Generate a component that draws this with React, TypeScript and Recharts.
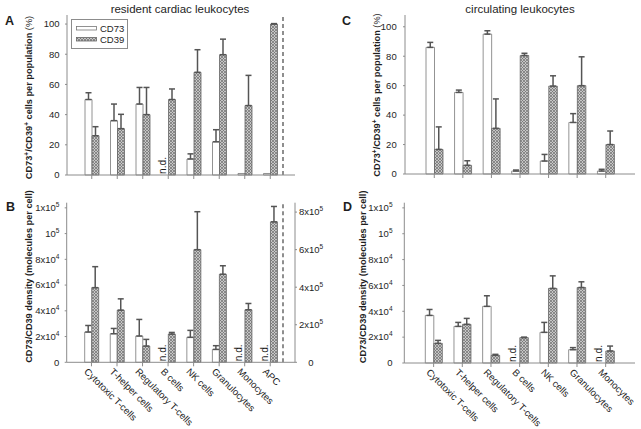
import React from "react";
import {
  BarChart,
  Bar,
  XAxis,
  YAxis,
  ErrorBar,
  LabelList,
  Label,
  Legend,
  ReferenceLine,
} from "recharts";

// categories
const cells = [
  "Cytotoxic T-cells",
  "T-helper cells",
  "Regulatory T-cells",
  "B cells",
  "NK cells",
  "Granulocytes",
  "Monocytes",
];
const cellsWithApc = [...cells, "APC"];

// A: resident cardiac leukocytes, % positive cells (0 = n.d.)
const pctA73 = [50, 36, 47, 0, 10.6, 22, 1, 1];
const pctA73Err = [4.5, 11, 11, 0, 3.4, 8, 0, 0];
const pctA39 = [26, 30.7, 40, 50, 68, 79.7, 46, 100];
const pctA39Err = [6, 9.5, 18, 7, 15, 10.3, 20, 0.3];
const ndA = [false, false, false, true, false, false, false, false];

// B: resident cardiac leukocytes, molecules per cell
const denB73 = [23500, 22200, 20400, 0, 19400, 10000, 0, 0];
const denB73Err = [5100, 4100, 12900, 0, 5400, 2900, 0, 0];
const denB39 = [58000, 40500, 12600, 21900, 87500, 68400, 40800, 0];
const denB39Err = [16300, 8800, 5200, 1300, 29500, 6600, 4900, 0];
// APC CD39 is read on the right axis
const apcB39 = [0, 0, 0, 0, 0, 0, 0, 748000];
const apcB39Err = [0, 0, 0, 0, 0, 0, 0, 82000];
const ndB = [false, false, false, true, false, false, true, true];

// C: circulating leukocytes, % positive cells
const pctC73 = [86, 55.4, 95, 2, 8.8, 35, 2];
const pctC73Err = [3.4, 1.6, 2.3, 0.7, 4.5, 6, 1.2];
const pctC39 = [16.7, 5.9, 31, 80.5, 59.7, 60, 20];
const pctC39Err = [15.3, 3.1, 20, 1.5, 7, 19.6, 9.2];
const ndC = [false, false, false, false, false, false, false];

// D: circulating leukocytes, molecules per cell
const denD73 = [36800, 28300, 43800, 0, 23700, 10300, 0];
const denD73Err = [4600, 3100, 8200, 0, 7700, 1600, 0];
const denD39 = [15200, 29900, 5900, 19600, 57700, 58400, 9300];
const denD39Err = [2300, 4600, 800, 400, 9700, 4400, 3800];
const ndD = [false, false, false, true, false, false, true];

// ticks
const pctTicks = [0, 20, 40, 60, 80, 100];
const denTicks = [0, 20000, 40000, 60000, 80000, 100000, 120000];
const denTickLabels = [["0", ""], ["2x10", "4"], ["4x10", "4"], ["6x10", "4"], ["8x10", "4"], ["10", "5"], ["1x10", "5"]];
const apcTicks = [0, 200000, 400000, 600000, 800000];
const apcTickLabels = [["0", ""], ["2x10", "5"], ["4x10", "5"], ["6x10", "5"], ["8x10", "5"]];

const FONT = "'Liberation Sans', Arial, Helvetica, sans-serif";
const AXIS = "#8c8c8c";
const INK = "#1e1e1e";
const HATCH = "url(#cd39hatch)";

const err = (e: number) => (e > 0 ? [0, e] : null);

function makeRows(names: string[], v73: number[], e73: number[], v39: number[], e39: number[], nd: boolean[]) {
  return names.map((name, i) => ({
    name,
    cd73: v73[i],
    e73: err(e73[i]),
    cd39: v39[i],
    e39: err(e39[i]),
    nd: nd[i] ? "n.d." : "",
  }));
}

const rowsA = makeRows(cellsWithApc, pctA73, pctA73Err, pctA39, pctA39Err, ndA);
// in B the APC "n.d." hangs on the right-axis bar
const rowsB = makeRows(cellsWithApc, denB73, denB73Err, denB39, denB39Err, ndB).map((r, i) => ({
  ...r,
  nd: apcB39[i] > 0 ? "" : r.nd,
  apc: apcB39[i],
  eApc: err(apcB39Err[i]),
  ndApc: apcB39[i] > 0 && ndB[i] ? "n.d." : "",
}));
const rowsC = makeRows(cells, pctC73, pctC73Err, pctC39, pctC39Err, ndC);
const rowsD = makeRows(cells, denD73, denD73Err, denD39, denD39Err, ndD);

const pctTitle = (
  <>
    <tspan>CD73</tspan>
    <tspan dy={-3} fontSize={6.5}>+</tspan>
    <tspan dy={3}>/CD39</tspan>
    <tspan dy={-3} fontSize={6.5}>+</tspan>
    <tspan dy={3}>{" cells per population "}</tspan>
    <tspan fontWeight="normal">(%)</tspan>
  </>
);
const denTitle = <tspan>CD73/CD39 density (molecules per cell)</tspan>;

const NoTick = () => <g />;

const SlantTick = (props: any) => {
  const { x, y, payload } = props;
  const ax = x - 3;
  const ay = y - 1;
  return (
    <text x={ax} y={ay} dy="0.72em" transform={`rotate(45 ${ax} ${ay})`} fontSize={9.6} fontFamily={FONT} fill={INK} textAnchor="start">
      {payload.value}
    </text>
  );
};

const powTick = (ticks: number[], labels: string[][] | null, anchor: "end" | "middle", shift: number) =>
  (props: any) => {
    const { x, y, payload } = props;
    const i = ticks.indexOf(payload.value);
    const [base, exp] = labels && i >= 0 ? labels[i] : [String(payload.value), ""];
    return (
      <text x={x + shift} y={y} dy="0.35em" textAnchor={anchor} fontSize={9.5} fontFamily={FONT} fill={INK}>
        {base}
        {exp ? (
          <tspan dy={-4} fontSize={6.5}>
            {exp}
          </tspan>
        ) : null}
      </text>
    );
  };

const yTitle = (content: React.ReactNode, cx: number, cy: number) => () => (
  <text x={cx} y={cy} transform={`rotate(-90 ${cx} ${cy})`} textAnchor="middle" dominantBaseline="central" fontFamily={FONT} fontSize={9.2} fontWeight="bold" fill={INK}>
    {content}
  </text>
);

// "n.d." written upright in the empty CD73 slot, left of the bar it is attached to
const ndLabel = (slotShift: number) => (props: any) => {
  const vb = props.viewBox || {};
  const x = Number(props.x ?? vb.x);
  const y = Number(props.y ?? vb.y);
  const w = Number(props.width ?? vb.width);
  const h = Number(props.height ?? vb.height);
  if (!props.value || !isFinite(x) || !isFinite(y)) return null;
  const bx = x + w * slotShift;
  const by = y + (isFinite(h) ? h : 0) - 1;
  return (
    <text x={bx} y={by} transform={`rotate(-90 ${bx} ${by})`} fontSize={10.2} fontFamily={FONT} fill={INK}>
      {props.value}
    </text>
  );
};

const LegendBox = () => (
  <div
    style={{
      boxSizing: "border-box",
      width: 57,
      height: 30,
      border: `1px solid ${AXIS}`,
      background: "#fff",
      padding: "3px 0 0 4px",
      fontFamily: FONT,
      fontSize: 9.5,
      color: INK,
      lineHeight: "11px",
    }}
  >
    <div style={{ display: "flex", alignItems: "center", height: 11 }}>
      <svg width={21} height={5} style={{ marginRight: 3 }}>
        <rect x={0.5} y={0.5} width={20} height={3.5} fill="#fff" stroke="#777" strokeWidth={0.8} />
      </svg>
      CD73
    </div>
    <div style={{ display: "flex", alignItems: "center", height: 11 }}>
      <svg width={21} height={5} style={{ marginRight: 3 }}>
        <rect x={0.5} y={0.5} width={20} height={3.5} fill={HATCH} stroke="#666" strokeWidth={0.8} />
      </svg>
      CD39
    </div>
  </div>
);

type PanelProps = {
  rows: any[];
  left: number;
  top: number;
  width: number;
  height: number;
  marginTop: number;
  marginRight: number;
  yWidth: number;
  xHeight: number;
  yMax: number;
  yTicks: number[];
  yLabels: string[][] | null;
  tickMargin: number;
  title: React.ReactNode;
  titleX: number;
  titleDy: number;
  barSize: number;
  pad: number;
  slanted: boolean;
  legend?: boolean;
  divider?: boolean;
  apcAxis?: boolean;
};

function Panel(p: PanelProps) {
  const plotH = p.height - p.marginTop - p.xHeight;
  return (
    <div style={{ position: "absolute", left: p.left, top: p.top }}>
      <BarChart
        width={p.width}
        height={p.height}
        data={p.rows}
        margin={{ top: p.marginTop, right: p.marginRight, bottom: 0, left: 0 }}
        barGap={0}
        barSize={p.barSize}
      >
        <XAxis
          dataKey="name"
          type="category"
          interval={0}
          height={p.xHeight}
          padding={{ left: p.pad, right: p.pad }}
          stroke={AXIS}
          tickSize={4}
          tickMargin={2}
          tick={p.slanted ? SlantTick : NoTick}
        />
        <XAxis xAxisId="pos" type="number" domain={[0, p.rows.length]} hide padding={{ left: p.pad, right: p.pad }} />
        <XAxis xAxisId="top" orientation="top" height={0} tick={false} tickLine={false} stroke={AXIS} />
        <YAxis
          type="number"
          domain={[0, p.yMax]}
          ticks={p.yTicks}
          interval={0}
          width={p.yWidth}
          stroke={AXIS}
          tickSize={2}
          tickMargin={p.tickMargin}
          tick={powTick(p.yTicks, p.yLabels, "end", 0)}
        >
          <Label content={yTitle(p.title, p.titleX, p.marginTop + plotH / 2 + p.titleDy)} />
        </YAxis>
        {p.apcAxis ? (
          <YAxis
            yAxisId="r"
            orientation="right"
            type="number"
            domain={[0, 850000]}
            ticks={apcTicks}
            interval={0}
            width={45}
            stroke={AXIS}
            tickSize={2}
            tickMargin={4}
            tick={powTick(apcTicks, apcTickLabels, "middle", 10)}
          />
        ) : (
          <YAxis yAxisId="frame" orientation="right" width={0} tick={false} tickLine={false} stroke={AXIS} />
        )}
        {p.divider && (
          <ReferenceLine xAxisId="pos" x={p.rows.length - 1} stroke="#333" strokeWidth={1.1} strokeDasharray="4 3" />
        )}
        <Bar
          dataKey="cd73"
          stackId={p.apcAxis ? "s73" : undefined}
          fill="#fff"
          stroke="#777"
          strokeWidth={0.8}
          isAnimationActive={false}
        >
          <ErrorBar dataKey="e73" width={3} stroke="#555" direction="y" isAnimationActive={false} />
        </Bar>
        <Bar
          dataKey="cd39"
          stackId={p.apcAxis ? "s39" : undefined}
          fill={HATCH}
          stroke="#666"
          strokeWidth={0.8}
          isAnimationActive={false}
        >
          <ErrorBar dataKey="e39" width={3} stroke="#555" direction="y" isAnimationActive={false} />
          <LabelList dataKey="nd" content={ndLabel(-0.4)} />
        </Bar>
        {p.apcAxis && (
          <Bar dataKey="apc" yAxisId="r" stackId="s39" fill={HATCH} stroke="#666" strokeWidth={0.8} isAnimationActive={false}>
            <ErrorBar dataKey="eApc" width={3} stroke="#555" direction="y" isAnimationActive={false} />
            <LabelList dataKey="ndApc" content={ndLabel(-0.4)} />
          </Bar>
        )}
        {p.legend && (
          <Legend
            layout="horizontal"
            verticalAlign="middle"
            align="center"
            content={LegendBox}
            wrapperStyle={{ left: 71, top: 19, width: 57, height: 30 }}
          />
        )}
      </BarChart>
    </div>
  );
}

export default function App() {
  return (
    <div style={{ position: "absolute", left: 0, top: 0, width: 641, height: 429, background: "#fff", fontFamily: FONT }}>
      <svg width={641} height={429} style={{ position: "absolute", left: 0, top: 0 }}>
        <defs>
          <pattern id="cd39hatch" width={3} height={3} patternUnits="userSpaceOnUse">
            <rect width={3} height={3} fill="#c6c6c6" />
            <path d="M0,0 L3,3 M3,0 L0,3" stroke="#6e6e6e" strokeWidth={0.7} />
          </pattern>
        </defs>
        <text x={180} y={13} textAnchor="middle" fontSize={11.5} fontFamily={FONT} fill={INK}>
          resident cardiac leukocytes
        </text>
        <text x={520} y={13} textAnchor="middle" fontSize={11.5} fontFamily={FONT} fill={INK}>
          circulating leukocytes
        </text>
        <text x={5} y={24.5} fontSize={12.5} fontWeight="bold" fontFamily={FONT} fill={INK}>A</text>
        <text x={6} y={211} fontSize={12.5} fontWeight="bold" fontFamily={FONT} fill={INK}>B</text>
        <text x={342} y={24.5} fontSize={12.5} fontWeight="bold" fontFamily={FONT} fill={INK}>C</text>
        <text x={343} y={211} fontSize={12.5} fontWeight="bold" fontFamily={FONT} fill={INK}>D</text>
      </svg>
      <Panel
        rows={rowsA}
        left={0}
        top={0}
        width={320}
        height={190}
        marginTop={15}
        marginRight={25}
        yWidth={67}
        xHeight={15}
        yMax={106}
        yTicks={pctTicks}
        yLabels={null}
        tickMargin={5.5}
        title={pctTitle}
        titleX={29}
        titleDy={2.5}
        barSize={7}
        pad={12}
        slanted={false}
        legend
        divider
      />
      <Panel
        rows={rowsB}
        left={0}
        top={190}
        width={340}
        height={239}
        marginTop={12.7}
        marginRight={0}
        yWidth={66.7}
        xHeight={66.7}
        yMax={124000}
        yTicks={denTicks}
        yLabels={denTickLabels}
        tickMargin={5.3}
        title={denTitle}
        titleX={29}
        titleDy={-6}
        barSize={7}
        pad={12}
        slanted
        divider
        apcAxis
      />
      <Panel
        rows={rowsC}
        left={320}
        top={0}
        width={321}
        height={190}
        marginTop={15}
        marginRight={6}
        yWidth={85}
        xHeight={16}
        yMax={108}
        yTicks={pctTicks}
        yLabels={null}
        tickMargin={6.3}
        title={pctTitle}
        titleX={56.7}
        titleDy={0.5}
        barSize={8.5}
        pad={15}
        slanted={false}
      />
      <Panel
        rows={rowsD}
        left={320}
        top={190}
        width={321}
        height={239}
        marginTop={12.7}
        marginRight={6}
        yWidth={84.3}
        xHeight={66}
        yMax={124000}
        yTicks={denTicks}
        yLabels={denTickLabels}
        tickMargin={9.8}
        title={denTitle}
        titleX={43}
        titleDy={-6}
        barSize={8.5}
        pad={15}
        slanted
      />
    </div>
  );
}
